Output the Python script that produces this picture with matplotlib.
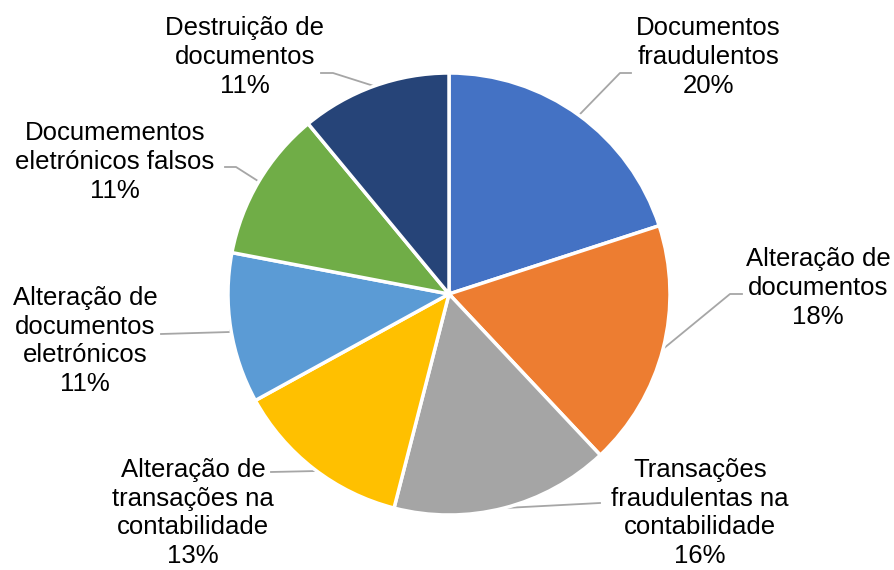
import numpy as np
import matplotlib.pyplot as plt

# dados
categorias = [
    "Documentos\nfraudulentos",
    "Alteração de\ndocumentos",
    "Transações\nfraudulentas na\ncontabilidade",
    "Alteração de\ntransações na\ncontabilidade",
    "Alteração de\ndocumentos\neletrónicos",
    "Documementos\neletrónicos falsos",
    "Destruição de\ndocumentos",
]
valores = [20, 18, 16, 13, 11, 11, 11]
cores = ["#4472C4", "#ED7D31", "#A5A5A5", "#FFC000", "#5B9BD5", "#70AD47", "#264478"]

# posicao dos rotulos (pixels: centro do texto) e cotovelo da linha guia
pos_rotulos = [(708, 57), (818, 288), (700, 513), (193, 513), (85, 341), (115, 162), (245, 57)]
cotovelos = [(620, 73), (730, 294), (600, 503), (317, 471), (230, 332), (236, 167), (333, 73)]
pontas = [(631, 73), (742, 294), None, (271, 472), (161, 334), (225, 167), (321, 73)]

W, H = 895, 570
cx, cy, R = 449, 294, 221


def px(p):
    return ((p[0] - cx) / R, (cy - p[1]) / R)


fig = plt.figure(figsize=(W / 100, H / 100), dpi=100)
ax = fig.add_axes([0, 0, 1, 1])

wedges, _ = ax.pie(valores, colors=cores, startangle=90, counterclock=False,
                   radius=1, center=(0, 0), frame=True,
                   wedgeprops=dict(edgecolor='white', linewidth=2.5))
ax.set_xlim(-cx / R, (W - cx) / R)
ax.set_ylim(-(H - cy) / R, cy / R)
ax.set_aspect('equal')
ax.axis('off')

total = sum(valores)
for i, w in enumerate(wedges):
    ang = np.deg2rad((w.theta1 + w.theta2) / 2)
    borda = (np.cos(ang), np.sin(ang))
    cot = px(cotovelos[i])
    xs = [borda[0], cot[0]]
    ys = [borda[1], cot[1]]
    if pontas[i] is not None:
        pt = px(pontas[i])
        xs.append(pt[0])
        ys.append(pt[1])
    ax.plot(xs, ys, color='#A6A6A6', linewidth=1.3, zorder=0)
    tx, ty = px(pos_rotulos[i])
    pct = round(100 * valores[i] / total)
    ax.text(tx, ty, f"{categorias[i]}\n{pct}%", ha='center', va='center',
            fontsize=18.5, family='Liberation Sans', color='#000000',
            linespacing=1.25)

fig.savefig("out.png", dpi=100)
